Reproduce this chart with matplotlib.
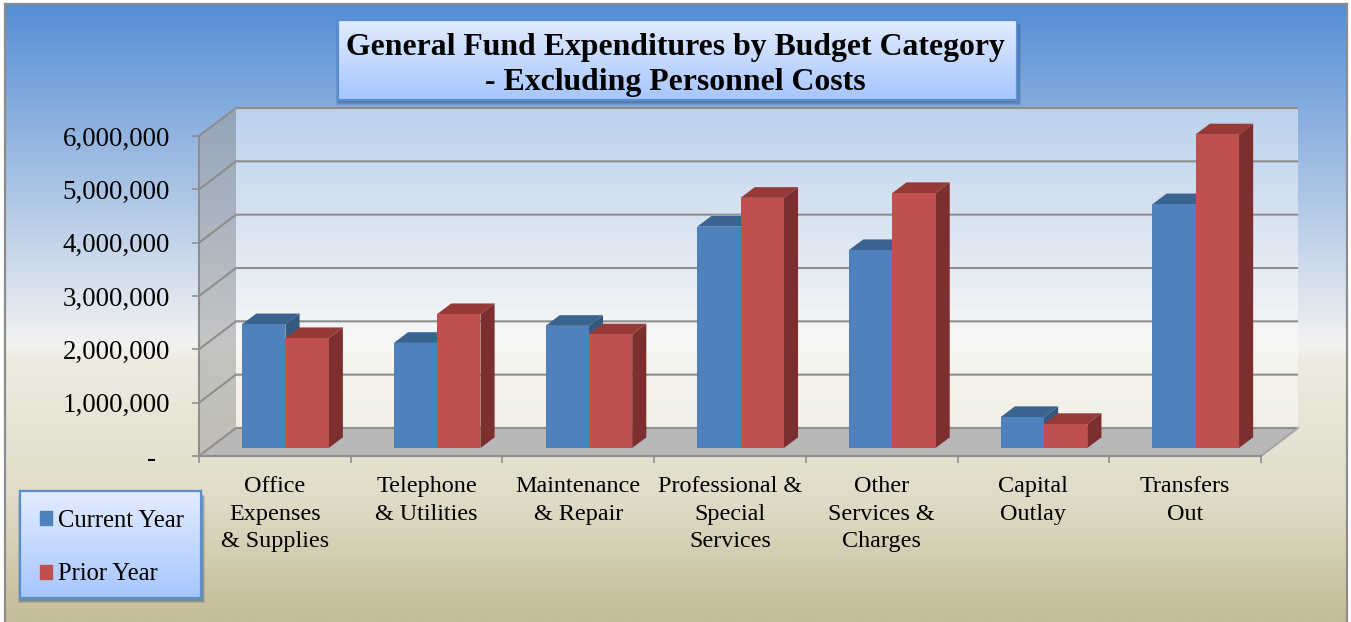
import matplotlib

matplotlib.use("Agg")
import matplotlib.pyplot as plt
import numpy as np
from matplotlib.colors import LinearSegmentedColormap
from matplotlib.patches import Patch, Polygon, Rectangle

categories = [
    "Office\nExpenses\n& Supplies",
    "Telephone\n& Utilities",
    "Maintenance\n& Repair",
    "Professional &\nSpecial\nServices",
    "Other\nServices &\nCharges",
    "Capital\nOutlay",
    "Transfers\nOut",
]
current_year = [2320000, 1970000, 2290000, 4150000, 3710000, 580000, 4570000]
prior_year = [2060000, 2510000, 2130000, 4690000, 4780000, 450000, 5880000]
y_ticks = [0, 1000000, 2000000, 3000000, 4000000, 5000000, 6000000]

W, H = 1351, 622
SERIF = "Liberation Serif"
GRID = "#8e8e8e"

# depth of the fake 3D box, in data units
DEPTH_X = 37 / 151.7
DEPTH_Y = 28 / 320 * 6000000
BAR_D0, BAR_D1 = 0.286, 0.668
BAR_W = 0.2855

BLUE = ("#4f81bd", "#3b6390", "#35587f")
RED = ("#c0504d", "#963a38", "#7c2f2e")

page_cmap = LinearSegmentedColormap.from_list(
    "page",
    [(0, "#558ed5"), (0.55, "#f2f2f2"), (0.575, "#eeece1"), (0.8, "#e0dcc8"), (1, "#c4bd97")],
)
box_cmap = LinearSegmentedColormap.from_list("box", ["#e3ecff", "#a7c6fe"])


def rect_px(x0, y0, x1, y1):
    return [x0 / W, 1 - y1 / H, (x1 - x0) / W, (y1 - y0) / H]


def proj(x, v, d):
    return (x + d * DEPTH_X, v + d * DEPTH_Y)


def gradient_box(fig, x0, y0, x1, y1):
    # soft drop shadow from a few stacked rectangles, mostly below the box
    for grow in (3, 2, 1):
        fig.add_artist(
            Rectangle(
                ((x0 - grow + 1) / W, 1 - (y1 + 2 + grow) / H),
                (x1 - x0 + 2 * grow) / W, (y1 - y0) / H,
                transform=fig.transFigure, facecolor="#30507a", alpha=0.2, edgecolor="none", zorder=2,
            )
        )
    box = fig.add_axes(rect_px(x0, y0, x1, y1), zorder=3)
    box.imshow(np.linspace(0, 1, 128)[:, None], aspect="auto", cmap=box_cmap)
    box.set_xticks([])
    box.set_yticks([])
    for spine in box.spines.values():
        spine.set_color("#5b8ed1")
        spine.set_linewidth(1.6)
    return box


def draw_bar(ax, x, value, colours):
    front, top, side = colours
    x1 = x + BAR_W
    ax.add_patch(Polygon(
        [proj(x1, 0, BAR_D0), proj(x1, 0, BAR_D1), proj(x1, value, BAR_D1), proj(x1, value, BAR_D0)],
        facecolor=side, edgecolor="none", clip_on=False, zorder=4,
    ))
    ax.add_patch(Polygon(
        [proj(x, value, BAR_D0), proj(x1, value, BAR_D0), proj(x1, value, BAR_D1), proj(x, value, BAR_D1)],
        facecolor=top, edgecolor="none", clip_on=False, zorder=4,
    ))
    ax.add_patch(Polygon(
        [proj(x, 0, BAR_D0), proj(x1, 0, BAR_D0), proj(x1, value, BAR_D0), proj(x, value, BAR_D0)],
        facecolor=front, edgecolor="none", clip_on=False, zorder=4,
    ))


fig = plt.figure(figsize=(W / 100, H / 100), dpi=100, facecolor="white")

# page background with its grey frame
bg = fig.add_axes(rect_px(5, 4, 1347, H), zorder=0)
bg.imshow(np.linspace(0, 1, 512)[:, None], aspect="auto", cmap=page_cmap)
bg.set_xticks([])
bg.set_yticks([])
for name, spine in bg.spines.items():
    spine.set_visible(name != "bottom")
    spine.set_color("#8c8c8c")
    spine.set_linewidth(1.6)

ax = fig.add_axes(rect_px(199, 136, 1261, 456), zorder=1)
ax.patch.set_alpha(0)
n = len(categories)
top = y_ticks[-1]
ax.set_xlim(0, n)
ax.set_ylim(0, top)

# walls and floor
ax.add_patch(Polygon(
    [proj(0, 0, 1), proj(n, 0, 1), proj(n, top, 1), proj(0, top, 1)],
    facecolor="white", alpha=0.45, edgecolor="none", clip_on=False, zorder=1,
))
ax.add_patch(Polygon(
    [proj(0, 0, 0), proj(0, 0, 1), proj(0, top, 1), proj(0, top, 0)],
    facecolor="#a0a0a0", alpha=0.55, edgecolor="none", clip_on=False, zorder=1,
))
ax.add_patch(Polygon(
    [proj(0, 0, 0), proj(n, 0, 0), proj(n, 0, 1), proj(0, 0, 1)],
    facecolor="#b8b8b8", edgecolor="none", clip_on=False, zorder=1,
))

# gridlines run along the side wall, then the back wall
for v in y_ticks:
    pts = [proj(0, v, 0), proj(0, v, 1), proj(n, v, 1)]
    ax.plot(*zip(*pts), color=GRID, lw=1.5, clip_on=False, zorder=2, solid_capstyle="butt")
ax.plot(*zip(proj(n, 0, 0), proj(n, 0, 1)), color="#a6a6a6", lw=1.5, clip_on=False, zorder=2)

for i in range(n):
    draw_bar(ax, i + 0.5 - BAR_W, current_year[i], BLUE)
    draw_bar(ax, i + 0.5, prior_year[i], RED)

for name, spine in ax.spines.items():
    spine.set_visible(name in ("left", "bottom"))
    spine.set_color(GRID)
    spine.set_linewidth(1.5)

ax.set_yticks(y_ticks)
ax.set_yticklabels(["-  " if v == 0 else f"{v:,}" for v in y_ticks], family=SERIF, fontsize=19.4, color="black")
ax.tick_params(axis="y", length=5, width=1.2, color=GRID, pad=16)
ax.set_xticks(range(n + 1))
ax.set_xticklabels([])
ax.tick_params(axis="x", length=5, width=1.2, color=GRID)
ax.set_xticks(np.arange(n) + 0.5, minor=True)
ax.set_xticklabels(categories, minor=True, family=SERIF, fontsize=17.4, color="black", linespacing=1.4, ha="center")
ax.tick_params(axis="x", which="minor", length=0, pad=14.5)

title_box = gradient_box(fig, 338, 20, 1017, 100)
title_box.text(
    0.497, 0.44, "General Fund Expenditures by Budget Category\n- Excluding Personnel Costs",
    transform=title_box.transAxes, ha="center", va="center",
    family=SERIF, fontweight="bold", fontsize=22.9, linespacing=1.26, color="black",
)

legend_box = gradient_box(fig, 20, 491, 201, 598)
legend_box.legend(
    handles=[Patch(color=BLUE[0], label="Current Year"), Patch(color=RED[0], label="Prior Year")],
    loc="center left", bbox_to_anchor=(0.11, 0.47), borderaxespad=0, borderpad=0, frameon=False,
    handlelength=0.5, handleheight=0.5, handletextpad=0.25, labelspacing=1.27,
    prop={"family": SERIF, "size": 17.7},
)

fig.savefig("out.png", dpi=100, facecolor="white")
